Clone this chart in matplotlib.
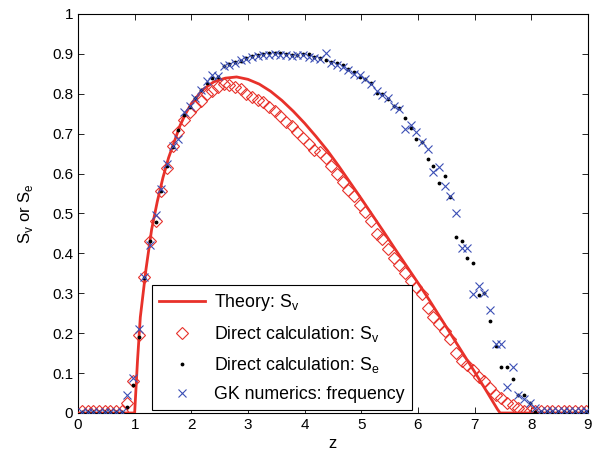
import matplotlib
matplotlib.use("Agg")
import matplotlib.pyplot as plt

plt.rcParams['font.family'] = ['Liberation Sans', 'DejaVu Sans']
plt.rcParams['mathtext.fontset'] = 'custom'
plt.rcParams['mathtext.rm'] = 'Liberation Sans'

# sample positions of the three numerical series
z = [0.07, 0.17, 0.27, 0.37, 0.47, 0.57, 0.67, 0.77, 0.87, 0.97,
     1.07, 1.17, 1.27, 1.37, 1.47, 1.57, 1.67, 1.77, 1.87, 1.97,
     2.07, 2.17, 2.27, 2.37, 2.47, 2.57, 2.67, 2.77, 2.87, 2.97,
     3.07, 3.17, 3.27, 3.37, 3.47, 3.57, 3.67, 3.77, 3.87, 3.97,
     4.07, 4.17, 4.27, 4.37, 4.47, 4.57, 4.67, 4.77, 4.87, 4.97,
     5.07, 5.17, 5.27, 5.37, 5.47, 5.57, 5.67, 5.77, 5.87, 5.97,
     6.07, 6.17, 6.27, 6.37, 6.47, 6.57, 6.67, 6.77, 6.87, 6.97,
     7.07, 7.17, 7.27, 7.37, 7.47, 7.57, 7.67, 7.77, 7.87, 7.97,
     8.07, 8.17, 8.27, 8.37, 8.47, 8.57, 8.67, 8.77, 8.87, 8.97]

sv_direct = [0.005, 0.005, 0.005, 0.005, 0.005, 0.005, 0.005, 0.005, 0.025, 0.08,
             0.195, 0.34, 0.43, 0.48, 0.555, 0.615, 0.67, 0.705, 0.735, 0.755,
             0.77, 0.782, 0.80, 0.808, 0.816, 0.824, 0.821, 0.816, 0.811, 0.80,
             0.793, 0.783, 0.778, 0.766, 0.757, 0.745, 0.73, 0.72, 0.705, 0.69,
             0.675, 0.66, 0.655, 0.64, 0.618, 0.598, 0.578, 0.559, 0.544, 0.522,
             0.503, 0.48, 0.448, 0.435, 0.412, 0.388, 0.372, 0.35, 0.33, 0.315,
             0.298, 0.264, 0.24, 0.222, 0.205, 0.185, 0.15, 0.13, 0.12, 0.108,
             0.09, 0.08, 0.063, 0.045, 0.037, 0.024, 0.02, 0.012, 0.005, 0.005,
             0.005, 0.005, 0.005, 0.005, 0.005, 0.005, 0.005, 0.005, 0.005, 0.005]

se_direct = [0.002, 0.002, 0.002, 0.002, 0.002, 0.002, 0.002, 0.002, 0.014, 0.07,
             0.19, 0.337, 0.432, 0.478, 0.555, 0.619, 0.666, 0.709, 0.747, 0.766,
             0.789, 0.81, 0.826, 0.839, 0.843, 0.87, 0.875, 0.88, 0.883, 0.889,
             0.895, 0.897, 0.90, 0.901, 0.901, 0.903, 0.90, 0.897, 0.897, 0.899,
             0.90, 0.891, 0.889, 0.884, 0.88, 0.876, 0.872, 0.861, 0.855, 0.843,
             0.836, 0.826, 0.803, 0.80, 0.786, 0.768, 0.764, 0.739, 0.713, 0.687,
             0.68, 0.636, 0.619, 0.576, 0.593, 0.54, 0.442, 0.431, 0.388, 0.375,
             0.296, 0.30, 0.23, 0.168, 0.115, 0.114, 0.084, 0.045, 0.045, 0.024,
             0.003, 0.002, 0.002, 0.002, 0.002, 0.002, 0.002, 0.002, 0.002, 0.002]

gk_freq = [0.003, 0.003, 0.003, 0.003, 0.003, 0.003, 0.003, 0.003, 0.045, 0.087,
           0.21, 0.342, 0.42, 0.495, 0.56, 0.624, 0.669, 0.686, 0.755, 0.768,
           0.789, 0.81, 0.833, 0.847, 0.845, 0.87, 0.872, 0.878, 0.884, 0.887,
           0.893, 0.895, 0.898, 0.897, 0.899, 0.898, 0.897, 0.895, 0.896, 0.897,
           0.893, 0.89, 0.887, 0.901, 0.877, 0.872, 0.868, 0.86, 0.85, 0.847,
           0.838, 0.825, 0.808, 0.797, 0.79, 0.77, 0.762, 0.711, 0.722, 0.705,
           0.68, 0.661, 0.603, 0.616, 0.569, 0.544, 0.50, 0.413, 0.413, 0.297,
           0.318, 0.30, 0.258, 0.173, 0.173, 0.064, 0.116, 0.045, 0.034, 0.024,
           0.012, 0.004, 0.004, 0.004, 0.004, 0.004, 0.004, 0.004, 0.004, 0.004]

# theory curve
z_theory = [0, 1.0, 1.05, 1.1, 1.2, 1.3, 1.4, 1.5, 1.6, 1.7, 1.8, 1.9, 2.0,
            2.2, 2.4, 2.6, 2.8, 3.0, 3.2, 3.4, 3.6, 3.8, 4.0, 4.2, 4.4, 4.6,
            4.8, 5.0, 5.2, 5.4, 5.6, 5.8, 6.0, 6.2, 6.4, 6.6, 6.8, 7.0, 7.2,
            7.4, 7.45, 9.0]
sv_theory = [0, 0, 0.13, 0.24, 0.36, 0.46, 0.53, 0.59, 0.64, 0.68, 0.72, 0.75, 0.775,
             0.81, 0.83, 0.839, 0.842, 0.836, 0.824, 0.806, 0.783, 0.756, 0.726, 0.693, 0.658, 0.619,
             0.578, 0.537, 0.495, 0.453, 0.41, 0.368, 0.326, 0.283, 0.238, 0.193, 0.148, 0.103, 0.057,
             0.01, 0, 0]

xticks = [0, 1, 2, 3, 4, 5, 6, 7, 8, 9]
yticks = [0, 0.1, 0.2, 0.3, 0.4, 0.5, 0.6, 0.7, 0.8, 0.9, 1]
ytick_labels = ['0', '0.1', '0.2', '0.3', '0.4', '0.5', '0.6', '0.7', '0.8', '0.9', '1']

fig = plt.figure(figsize=(5.93, 4.63), dpi=100)
ax = fig.add_axes([0.1315, 0.108, 0.86, 0.862])

ax.plot(z_theory, sv_theory, '-', color='#e8312a', lw=2.0, label=r'Theory: S$_\mathregular{v}$', zorder=3)
ax.plot(z, sv_direct, 'D', mfc='none', mec='#e8312a', ms=6, mew=0.8,
        label=r'Direct calculation: S$_\mathregular{v}$', zorder=2)
ax.plot(z, se_direct, '.', color='black', ms=3.5,
        label=r'Direct calculation: S$_\mathregular{e}$', zorder=4)
ax.plot(z, gk_freq, 'x', color='#3b4fb5', ms=5.5, mew=0.8,
        label='GK numerics: frequency', zorder=4)

ax.set_xlim(0, 9)
ax.set_ylim(0, 1)
ax.set_xticks(xticks)
ax.set_yticks(yticks)
ax.set_yticklabels(ytick_labels)
ax.tick_params(direction='in', top=True, right=True, labelsize=11, length=4, width=0.6)
for s in ax.spines.values():
    s.set_linewidth(0.8)

ax.set_xlabel('z', fontsize=12, labelpad=3)
ax.set_ylabel(r'S$_\mathregular{v}$ or S$_\mathregular{e}$', fontsize=12, labelpad=12)

leg = ax.legend(loc='lower left', bbox_to_anchor=(0.145, 0.0075), borderaxespad=0,
                fontsize=12.8, fancybox=False, edgecolor='black', framealpha=1,
                handlelength=2.6, labelspacing=0.62, borderpad=0.4, handletextpad=0.5)
leg.get_frame().set_linewidth(0.8)

fig.savefig('out.png', dpi=100)
